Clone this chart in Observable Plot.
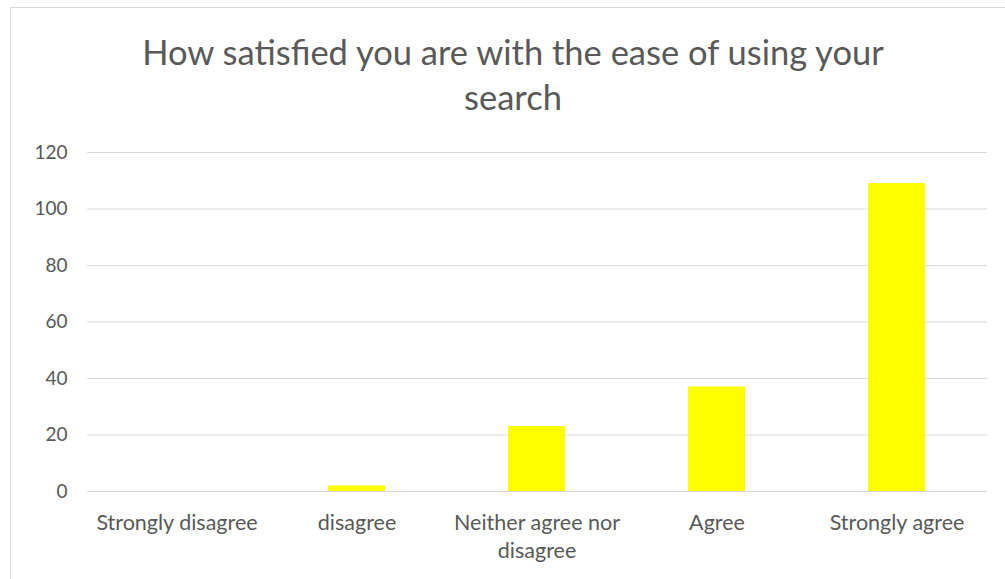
<!DOCTYPE html>
<html>
<head>
<meta charset="utf-8">
<script src="https://cdn.jsdelivr.net/npm/d3@7"></script>
<script src="https://cdn.jsdelivr.net/npm/@observablehq/plot@0.6"></script>
<style>
  html, body { margin: 0; padding: 0; background: #ffffff; }
  #wrap { position: relative; width: 1005px; height: 579px; overflow: hidden; background: #fff; font-family: Lato, "Open Sans", sans-serif; }
  #frame { position: absolute; left: 10px; top: 7px; width: 1100px; height: 700px; border: 1.5px solid #d9d9d9; box-sizing: border-box; }
  #title { position: absolute; left: 63px; width: 900px; top: 29px; text-align: center; color: #595959; font-size: 34.5px; line-height: 45px; }
  #chart { position: absolute; left: 0; top: 130px; }
</style>
</head>
<body>
<div id="wrap">
  <div id="frame"></div>
  <div id="title">How satisfied you are with the ease of using your<br>search</div>
  <div id="chart"></div>
</div>
<script>
const categories = ["Strongly disagree", "disagree", "Neither agree nor disagree", "Agree", "Strongly agree"];
const tickLabels = ["Strongly disagree", "disagree", "Neither agree nor\ndisagree", "Agree", "Strongly agree"];
const counts = [0, 2, 23, 37, 109];
const yTicks = [0, 20, 40, 60, 80, 100, 120];

const data = categories.map((c, i) => ({category: c, count: counts[i]}));
const labelOf = new Map(categories.map((c, i) => [c, tickLabels[i]]));

const chart = Plot.plot({
  width: 1005,
  height: 449,
  marginLeft: 87,
  marginRight: 18,
  marginTop: 22,
  marginBottom: 88,
  style: {fontFamily: "Lato, 'Open Sans', sans-serif", fontSize: "19px", color: "#595959", background: "transparent"},
  x: {domain: categories, paddingInner: 0.683, paddingOuter: 0.3415, label: null},
  y: {domain: [0, 120], ticks: yTicks, label: null},
  marks: [
    Plot.gridY(yTicks, {stroke: "#d9d9d9", strokeOpacity: 1, strokeWidth: 1.2}),
    Plot.barY(data, {x: "category", y: "count", fill: "#ffff00"}),
    Plot.axisY(yTicks, {tickSize: 0, tickPadding: 20, fill: "#595959", fontSize: 19, label: null}),
    Plot.axisX({tickSize: 0, tickPadding: 19, fill: "#595959", fontSize: 21.5, label: null, tickFormat: d => labelOf.get(d), lineHeight: 1.3})
  ]
});
document.getElementById("chart").appendChild(chart);
</script>
</body>
</html>
